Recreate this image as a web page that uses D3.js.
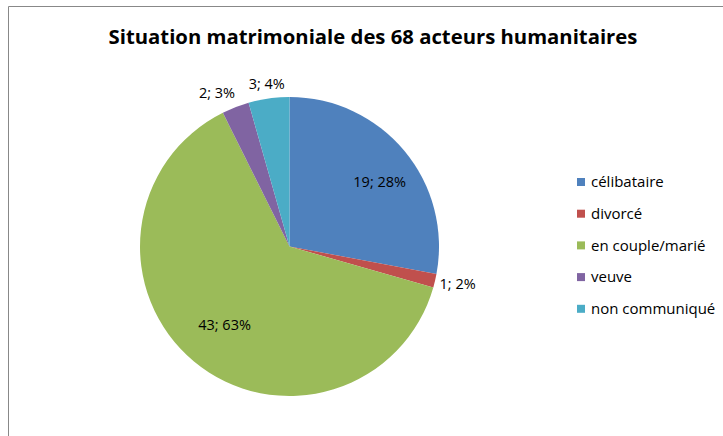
<!DOCTYPE html>
<html>
<head>
<meta charset="utf-8">
<script src="https://cdn.jsdelivr.net/npm/d3@7"></script>
<style>
  body { margin: 0; background: #fff; }
  text { font-family: "Open Sans", "Noto Sans", sans-serif; }
</style>
</head>
<body>
<script>
// Data
const categories = ['célibataire', 'divorcé', 'en couple/marié', 'veuve', 'non communiqué'];
const counts = [19, 1, 43, 2, 3];
const percents = ['28%', '2%', '63%', '3%', '4%'];
const colors = ['#4f81bd', '#c0504d', '#9bbb59', '#8064a2', '#4bacc6'];

const W = 723, H = 436;
const cx = 289.5, cy = 246.5, radius = 149.5;

const svg = d3.select('body').append('svg')
  .attr('width', W)
  .attr('height', H);

// chart frame
svg.append('path')
  .attr('d', 'M8.5,' + H + 'V6.5H' + W)
  .attr('fill', 'none')
  .attr('stroke', '#888')
  .attr('stroke-width', 1);

// title
svg.append('text')
  .attr('x', 373)
  .attr('y', 44)
  .attr('text-anchor', 'middle')
  .style('font-size', '20.3px')
  .style('font-weight', 'bold')
  .attr('fill', '#000')
  .text('Situation matrimoniale des 68 acteurs humanitaires');

const pie = d3.pie().sort(null).value(d => d)(counts);
const arc = d3.arc().innerRadius(0).outerRadius(radius);

const g = svg.append('g').attr('transform', 'translate(' + cx + ',' + cy + ')');

g.selectAll('path.slice')
  .data(pie)
  .enter().append('path')
  .attr('class', 'slice')
  .attr('d', arc)
  .attr('fill', (d, i) => colors[i]);

// labels: big slices inside, small ones outside
const inner = d3.arc().innerRadius(radius * 0.68).outerRadius(radius * 0.68);
const outer = d3.arc().innerRadius(radius * 1.1).outerRadius(radius * 1.1);

g.selectAll('text.lbl')
  .data(pie)
  .enter().append('text')
  .attr('class', 'lbl')
  .each(function (d, i) {
    const small = (d.endAngle - d.startAngle) < 0.4;
    const p = small ? outer.centroid(d) : inner.centroid(d);
    const mid = (d.startAngle + d.endAngle) / 2;
    let anchor = 'middle';
    let x = p[0];
    if (small) {
      if (Math.sin(mid) > 0.5) { anchor = 'start'; x -= 10; }
      else if (Math.sin(mid) < -0.25) { anchor = 'end'; x += 5; }
    } else if (Math.sin(mid) > 0) {
      x += 12;
    }
    d3.select(this)
      .attr('x', x)
      .attr('y', p[1])
      .attr('dy', '0.35em')
      .attr('text-anchor', anchor);
  })
  .style('font-size', '14.5px')
  .attr('fill', '#000')
  .text((d, i) => counts[i] + '; ' + percents[i]);

// legend
const legend = svg.append('g').attr('transform', 'translate(577,182)');
const rows = legend.selectAll('g')
  .data(categories)
  .enter().append('g')
  .attr('transform', (d, i) => 'translate(0,' + (i * 31.7) + ')');

rows.append('rect')
  .attr('x', 0).attr('y', -4)
  .attr('width', 8).attr('height', 8)
  .attr('fill', (d, i) => colors[i]);

rows.append('text')
  .attr('x', 14)
  .attr('dy', '0.35em')
  .style('font-size', '15px')
  .attr('fill', '#000')
  .text(d => d);
</script>
</body>
</html>
